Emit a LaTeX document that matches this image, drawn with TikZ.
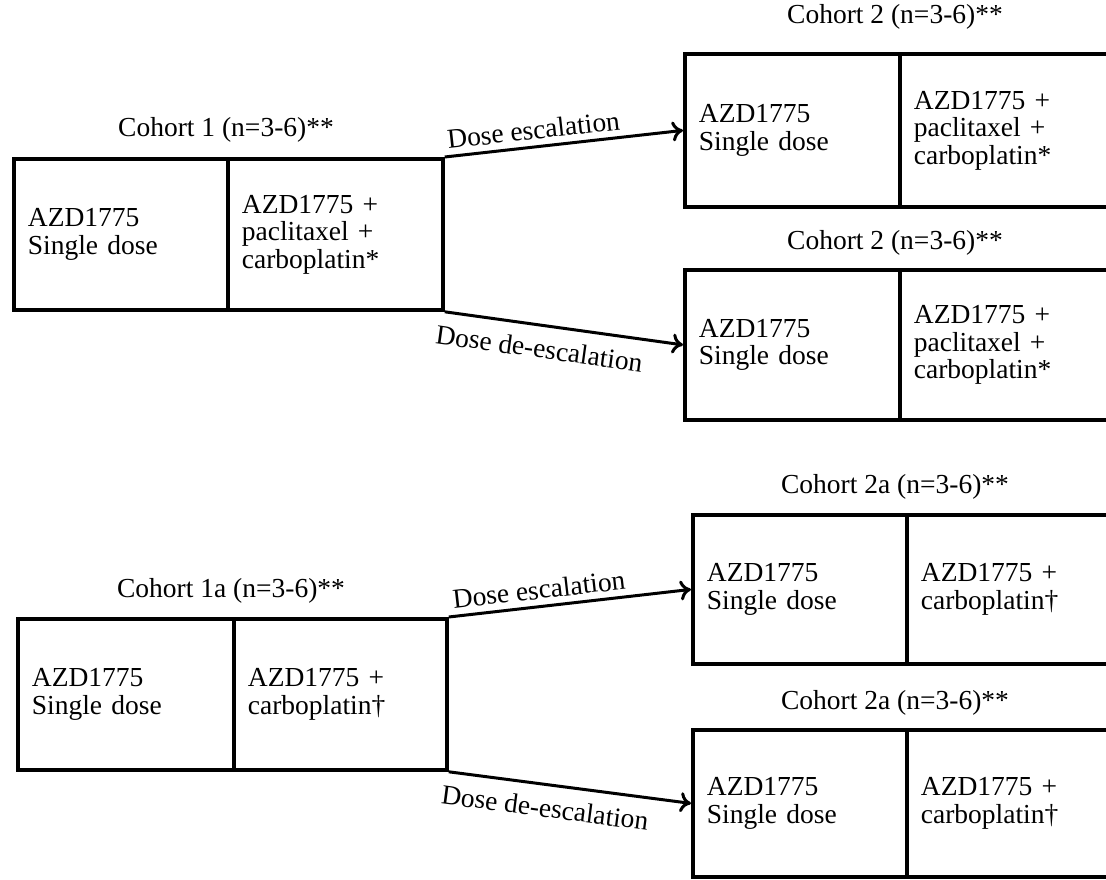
\documentclass[tikz,border=0pt]{standalone}
\usepackage{fontspec}
\setmainfont{Liberation Serif}
\usetikzlibrary{arrows.meta}
\begin{document}
\begin{tikzpicture}[x=1pt,y=-1pt,
  cell/.style={draw, line width=3.8pt, rectangle, anchor=north west, inner xsep=14pt, inner ysep=0pt, align=left, font=\fontsize{27.5}{27.5}\selectfont},
  title/.style={font=\fontsize{27.5}{28}\selectfont},
  conn/.style={line width=3pt, -{To[length=11pt,width=20pt,line width=3pt]}},
  lab/.style={font=\fontsize{27.5}{28}\selectfont, sloped, inner sep=6pt},
  lablow/.style={lab, inner sep=12pt}]
\useasboundingbox (0,0) rectangle (1106,880);
\clip (0,0) rectangle (1106,880);
% ---- top group ----
\node[cell, text width=186pt, minimum height=151pt] (c1l) at (12,157) {AZD1775\\Single dose};
\node[cell, text width=187pt, minimum height=151pt] (c1r) at (226,157) {AZD1775 +\\paclitaxel +\\carboplatin*};
\node[title] (t1) at (226,130) {Cohort 1 (n=3-6)**};

\node[cell, text width=187pt, minimum height=153pt] (c2l) at (683,52) {AZD1775\\Single dose};
\node[cell, text width=210pt, minimum height=153pt] (c2r) at (898,52) {AZD1775 +\\paclitaxel +\\carboplatin*};
\node[title] (t2) at (895,17) {Cohort 2 (n=3-6)**};

\node[cell, text width=187pt, minimum height=150pt] (c3l) at (683,268) {AZD1775\\Single dose};
\node[cell, text width=210pt, minimum height=150pt] (c3r) at (898,268) {AZD1775 +\\paclitaxel +\\carboplatin*};
\node[title] (t3) at (895,243) {Cohort 2 (n=3-6)**};

\draw[conn] (c1r.north east) -- node[lab, above, pos=0.38] {Dose escalation} (c2l.west);
\draw[conn] (c1r.south east) -- node[lablow, below, pos=0.41] {Dose de-escalation} (c3l.west);

% ---- bottom group ----
\node[cell, text width=188pt, minimum height=151pt] (c4l) at (16,617) {AZD1775\\Single dose};
\node[cell, text width=185pt, minimum height=151pt] (c4r) at (232,617) {AZD1775 +\\carboplatin†};
\node[title] (t4) at (231,591) {Cohort 1a (n=3-6)**};

\node[cell, text width=186pt, minimum height=149pt] (c5l) at (691,513) {AZD1775\\Single dose};
\node[cell, text width=205pt, minimum height=149pt] (c5r) at (905,513) {AZD1775 +\\carboplatin†};
\node[title] (t5) at (895,487) {Cohort 2a (n=3-6)**};

\node[cell, text width=186pt, minimum height=147pt] (c6l) at (691,728) {AZD1775\\Single dose};
\node[cell, text width=205pt, minimum height=147pt] (c6r) at (905,728) {AZD1775 +\\carboplatin†};
\node[title] (t6) at (895,703) {Cohort 2a (n=3-6)**};

\draw[conn] (c4r.north east) -- node[lab, above, pos=0.38] {Dose escalation} (c5l.west);
\draw[conn] (c4r.south east) -- node[lablow, below, pos=0.41] {Dose de-escalation} (c6l.west);
\end{tikzpicture}
\end{document}
